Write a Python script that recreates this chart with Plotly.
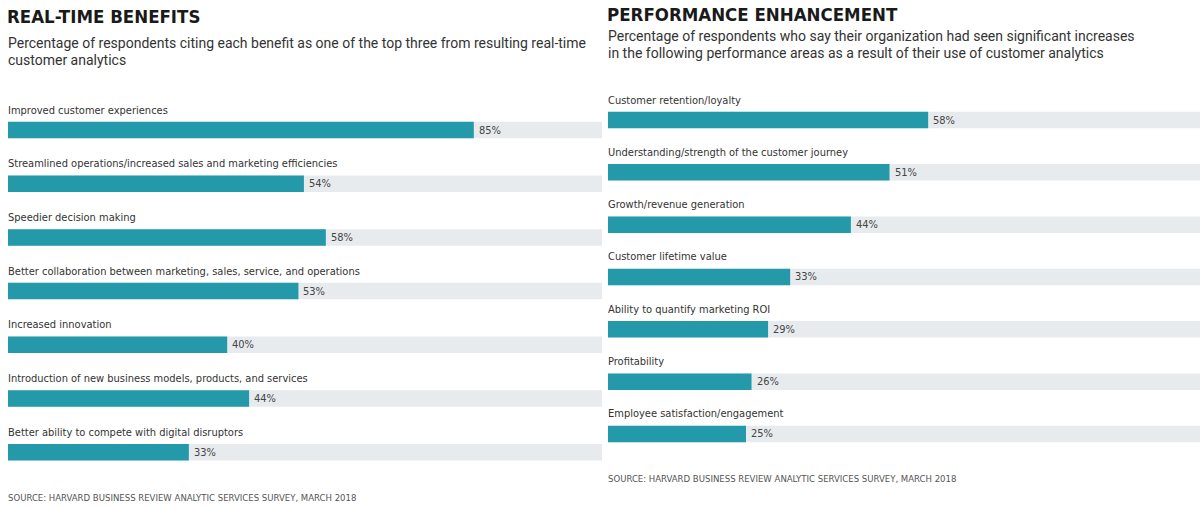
import plotly.graph_objects as go

W, H = 1200, 507

left_title = "REAL-TIME BENEFITS"
left_subtitle = ["Percentage of respondents citing each benefit as one of the top three from resulting real-time",
                 "customer analytics"]
left_cats = ["Improved customer experiences",
             "Streamlined operations/increased sales and marketing efficiencies",
             "Speedier decision making",
             "Better collaboration between marketing, sales, service, and operations",
             "Increased innovation",
             "Introduction of new business models, products, and services",
             "Better ability to compete with digital disruptors"]
left_vals = [85, 54, 58, 53, 40, 44, 33]

right_title = "PERFORMANCE ENHANCEMENT"
right_subtitle = ["Percentage of respondents who say their organization had seen significant increases",
                  "in the following performance areas as a result of their use of customer analytics"]
right_cats = ["Customer retention/loyalty",
              "Understanding/strength of the customer journey",
              "Growth/revenue generation",
              "Customer lifetime value",
              "Ability to quantify marketing ROI",
              "Profitability",
              "Employee satisfaction/engagement"]
right_vals = [58, 51, 44, 33, 29, 26, 25]

source = "SOURCE: HARVARD BUSINESS REVIEW ANALYTIC SERVICES SURVEY, MARCH 2018"

TEAL = "#2499a9"
TRACK = "#e8ebee"
LABEL_FONT = "DejaVu Sans Condensed, Roboto, sans-serif"
TITLE_FONT = "DejaVu Sans Condensed, Roboto, sans-serif"

# panel geometry (pixels)
L_X0, L_X1, L_PX = 8, 602, 5.48
R_X0, R_X1, R_PX = 608, 1200, 5.52
L_ROW0, L_STEP = 130, 53.7
R_ROW0, R_STEP = 120, 52.33
BAR_PX = 16.5

fig = go.Figure()

def add_panel(cats, vals, xa, ya, x0, x1, px, row0, step):
    n = len(cats)
    ys = list(range(n))
    xmax = (x1 - x0) / px
    width = BAR_PX / step
    fig.add_trace(go.Bar(x=[xmax] * n, y=ys, orientation="h", marker_color=TRACK,
                         marker_line_width=0, width=width, xaxis=xa, yaxis=ya,
                         hoverinfo="skip", showlegend=False))
    fig.add_trace(go.Bar(x=vals, y=ys, orientation="h", marker_color=TEAL,
                         marker_line_width=0, width=width, xaxis=xa, yaxis=ya,
                         text=[f"{v}%" for v in vals], textposition="none",
                         showlegend=False))
    xr = "x" if xa == "x" else "x2"
    yr = "y" if ya == "y" else "y2"
    for i, (c, v) in enumerate(zip(cats, vals)):
        fig.add_annotation(x=0, y=i, xref=xr, yref=yr, text=c, showarrow=False,
                           xanchor="left", yanchor="middle", yshift=20, xshift=-2,
                           font=dict(family=LABEL_FONT, size=11, color="#333333"))
        fig.add_annotation(x=v, y=i, xref=xr, yref=yr, text=f"{v}%", showarrow=False,
                           xanchor="left", yanchor="middle", xshift=3,
                           font=dict(family=LABEL_FONT, size=11, color="#444444"))
    top = -row0 / step
    bottom = (H - row0) / step
    return [0, xmax], [bottom, top]

lxr, lyr = add_panel(left_cats, left_vals, "x", "y", L_X0, L_X1, L_PX, L_ROW0, L_STEP)
rxr, ryr = add_panel(right_cats, right_vals, "x2", "y2", R_X0, R_X1, R_PX, R_ROW0, R_STEP)

ax = dict(showgrid=False, zeroline=False, showticklabels=False, ticks="", fixedrange=True)
fig.update_layout(
    width=W, height=H, margin=dict(l=0, r=0, t=0, b=0),
    paper_bgcolor="white", plot_bgcolor="rgba(0,0,0,0)",
    barmode="overlay", showlegend=False,
    xaxis=dict(domain=[L_X0 / W, L_X1 / W], range=lxr, **ax),
    yaxis=dict(domain=[0, 1], range=lyr, **ax),
    xaxis2=dict(domain=[R_X0 / W, R_X1 / W], range=rxr, anchor="y2", **ax),
    yaxis2=dict(domain=[0, 1], range=ryr, anchor="x2", **ax),
)

def pap(px_x, px_y):
    return px_x / W, 1 - px_y / H

def text_at(x, y, t, size, family, color, bold=False):
    px, py = pap(x, y)
    fig.add_annotation(x=px, y=py, xref="paper", yref="paper", text=f"<b>{t}</b>" if bold else t,
                       showarrow=False, xanchor="left", yanchor="middle",
                       font=dict(family=family, size=size, color=color))

# titles
text_at(5, 17, left_title, 18.5, TITLE_FONT, "#1a1a1a", bold=True)
text_at(605, 14, right_title, 18.5, TITLE_FONT, "#1a1a1a", bold=True)
# subtitles
for k, line in enumerate(left_subtitle):
    text_at(6, 43 + 17 * k, line, 14, "Roboto", "#333333")
for k, line in enumerate(right_subtitle):
    text_at(606, 36 + 17 * k, line, 14, "Roboto", "#333333")
# sources
text_at(6, 497, source, 9.5, LABEL_FONT, "#555555")
text_at(606, 478, source, 9.5, LABEL_FONT, "#555555")

fig.write_html("out.html", post_script="document.body.style.margin='0px';",
               config={"displayModeBar": False})
